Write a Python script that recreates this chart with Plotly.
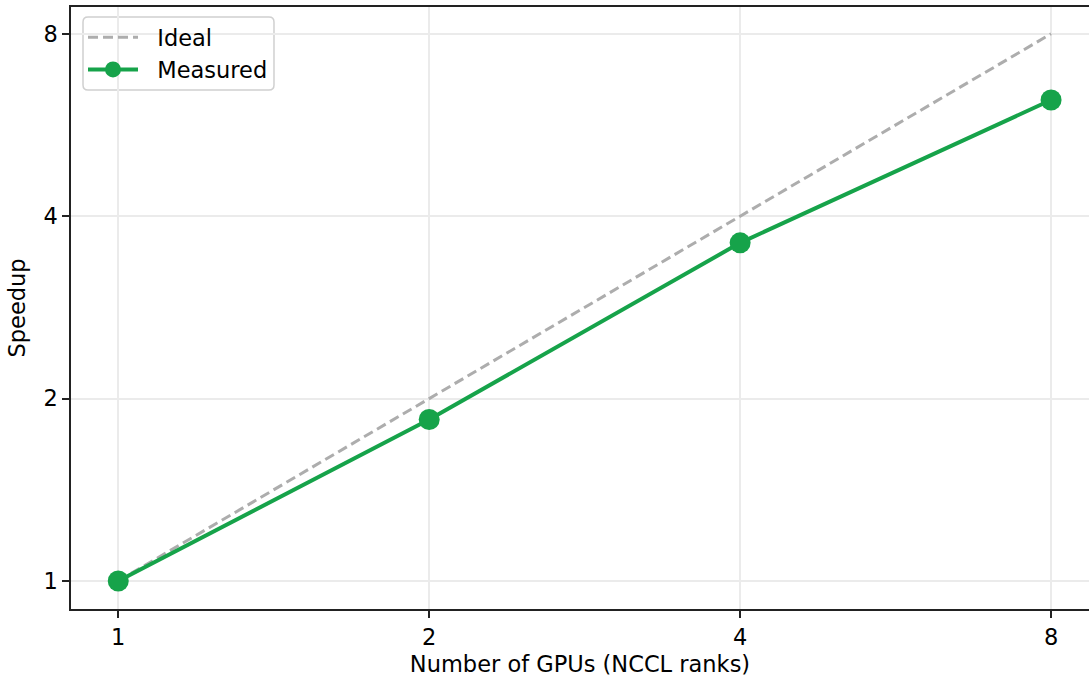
import re
import math
import plotly.graph_objects as go

gpus = [1, 2, 4, 8]
ideal = [1, 2, 4, 8]
measured = [1.0, 1.847, 3.615, 6.22]
tick_vals = [1, 2, 4, 8]
tick_text = ["1", "2", "4", "8"]

GREEN = "#16a34a"
FONT = "DejaVu Sans"
FS = 22.5

fig = go.Figure()
fig.add_trace(go.Scatter(
    x=gpus, y=ideal, mode="lines", name="\u00a0\u00a0Ideal",
    line=dict(color="#adadad", width=3, dash="10px,5px"),
))
fig.add_trace(go.Scatter(
    x=gpus, y=measured, mode="lines+markers", name="\u00a0\u00a0Measured",
    line=dict(color=GREEN, width=4),
    marker=dict(color=GREEN, size=21),
))

# plot area in pixels
PL, PR, PT, PB = 71, 1089, 7, 609
W, H = 1089, 678

l2 = math.log10(2)
fig.update_layout(
    width=W, height=H,
    margin=dict(l=PL, r=W - PR, t=PT, b=H - PB),
    paper_bgcolor="white", plot_bgcolor="white",
    font=dict(family=FONT, size=FS, color="black"),
    showlegend=True,
    legend=dict(
        x=(83 - PL) / (PR - PL), y=1 - (16 - PT) / (PB - PT),
        xanchor="left", yanchor="top",
        bgcolor="rgba(0,0,0,0)", borderwidth=0,
        font=dict(family=FONT, size=FS, color="black"),
        itemwidth=50, tracegroupgap=0,
    ),
    xaxis=dict(
        type="log", range=[-0.152 * l2, 3.122 * l2],
        tickvals=tick_vals, ticktext=tick_text,
        showline=True, linecolor="#222", linewidth=1.5, mirror=True,
        ticks="outside", ticklen=7, tickwidth=1.5, tickcolor="#222",
        showgrid=True, gridcolor="#ebebeb", gridwidth=1.5,
        zeroline=False,
        title=dict(text="Number of GPUs (NCCL ranks)", font=dict(size=FS), standoff=7),
        tickfont=dict(size=FS),
    ),
    yaxis=dict(
        type="log", range=[-0.1536 * l2, 3.147 * l2],
        tickvals=tick_vals, ticktext=tick_text,
        showline=True, linecolor="#222", linewidth=1.5, mirror=False,
        ticks="outside", ticklen=7, tickwidth=1.5, tickcolor="#222",
        showgrid=True, gridcolor="#ebebeb", gridwidth=1.5,
        zeroline=False,
        title=dict(text="Speedup", font=dict(size=FS), standoff=12),
        tickfont=dict(size=FS),
    ),
)

# rounded legend frame (pixel coords converted to plot-area paper coords)
x0, x1, y0, y1, r = 83, 274, 17, 90, 5
def px(x):
    return (x - PL) / (PR - PL)
def py(y):
    return 1 - (y - PT) / (PB - PT)
path = (f"M {x0+r},{y0} L {x1-r},{y0} Q {x1},{y0} {x1},{y0+r} L {x1},{y1-r} "
        f"Q {x1},{y1} {x1-r},{y1} L {x0+r},{y1} Q {x0},{y1} {x0},{y1-r} "
        f"L {x0},{y0+r} Q {x0},{y0} {x0+r},{y0} Z")
def conv(m):
    a, b = float(m.group(1)), float(m.group(2))
    return f"{px(a):.5f},{py(b):.5f}"
ppath = re.sub(r"([\d.]+),([\d.]+)", conv, path)
fig.add_shape(type="path", xref="paper", yref="paper", path=ppath,
              fillcolor="rgba(255,255,255,0.8)", line=dict(color="#d0d0d0", width=1.5),
              layer="below")

fig.write_html("out.html")
